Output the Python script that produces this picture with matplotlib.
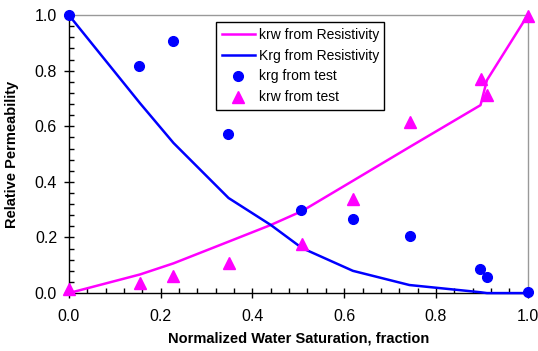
import matplotlib
matplotlib.use("Agg")
import matplotlib.pyplot as plt
from matplotlib.ticker import MultipleLocator, FormatStrFormatter

plt.rcParams['font.family'] = ['Liberation Sans', 'DejaVu Sans']

# Resistivity-derived curves
sw_res = [0.0, 0.155, 0.228, 0.348, 0.44, 0.508, 0.619, 0.742, 0.897, 0.911, 1.0]
krw_res = [0.0, 0.067, 0.107, 0.185, 0.245, 0.295, 0.404, 0.525, 0.676, 0.766, 1.0]
krg_res = [1.0, 0.683, 0.54, 0.342, 0.245, 0.162, 0.080, 0.029, 0.003, 0.0, 0.0]

# Test data
sw_test = [0.0, 0.153, 0.226, 0.347, 0.506, 0.619, 0.744, 0.896, 0.911, 1.0]
krg_test = [1.0, 0.817, 0.906, 0.574, 0.299, 0.265, 0.205, 0.088, 0.059, 0.003]
sw_test_w = [0.0, 0.155, 0.227, 0.349, 0.507, 0.620, 0.744, 0.897, 0.911, 1.0]
krw_test = [0.015, 0.035, 0.062, 0.108, 0.178, 0.339, 0.615, 0.771, 0.711, 0.995]

blue = '#0000FF'
magenta = '#FF00FF'

fig = plt.figure(figsize=(5.38, 3.51), dpi=100)
ax = fig.add_axes([0.128, 0.165, 0.853, 0.792])

ax.plot(sw_res, krw_res, color=magenta, lw=1.8, label='krw from Resistivity', clip_on=False, zorder=3)
ax.plot(sw_res, krg_res, color=blue, lw=1.8, label='Krg from Resistivity', clip_on=False, zorder=3)
ax.plot(sw_test, krg_test, 'o', color=blue, ms=7, ls='none', label='krg from test', clip_on=False, zorder=4)
ax.plot(sw_test_w, krw_test, '^', color=magenta, ms=8, ls='none', label='krw from test', clip_on=False, zorder=4)

ax.set_xlim(0, 1)
ax.set_ylim(0, 1)
ax.xaxis.set_major_locator(MultipleLocator(0.2))
ax.xaxis.set_minor_locator(MultipleLocator(0.04))
ax.yaxis.set_major_locator(MultipleLocator(0.2))
ax.yaxis.set_minor_locator(MultipleLocator(0.04))
ax.xaxis.set_major_formatter(FormatStrFormatter('%.1f'))
ax.yaxis.set_major_formatter(FormatStrFormatter('%.1f'))
ax.tick_params(which='major', direction='inout', length=7, width=1, labelsize=11.5, colors='black')
ax.tick_params(axis='x', which='major', pad=8)
ax.tick_params(axis='y', which='major', pad=5)
ax.tick_params(which='minor', direction='in', length=3.5, width=1)
ax.tick_params(top=False, right=False, which='both')

for s in ['top', 'right']:
    ax.spines[s].set_color('#999999')
    ax.spines[s].set_linewidth(1)
for s in ['left', 'bottom']:
    ax.spines[s].set_color('black')
    ax.spines[s].set_linewidth(1)

ax.set_xlabel('Normalized Water Saturation, fraction', fontsize=10.5, fontweight='bold', labelpad=5)
ax.set_ylabel('Relative Permeability', fontsize=10.5, fontweight='bold', labelpad=11)

leg = ax.legend(loc='upper left', bbox_to_anchor=(0.321, 0.975), fontsize=10, frameon=True,
                fancybox=False, edgecolor='black', framealpha=1, borderpad=0.4,
                labelspacing=0.5, handlelength=2.4, handletextpad=0.25, borderaxespad=0)
leg.get_frame().set_linewidth(1)

fig.savefig('out.png', dpi=100)
